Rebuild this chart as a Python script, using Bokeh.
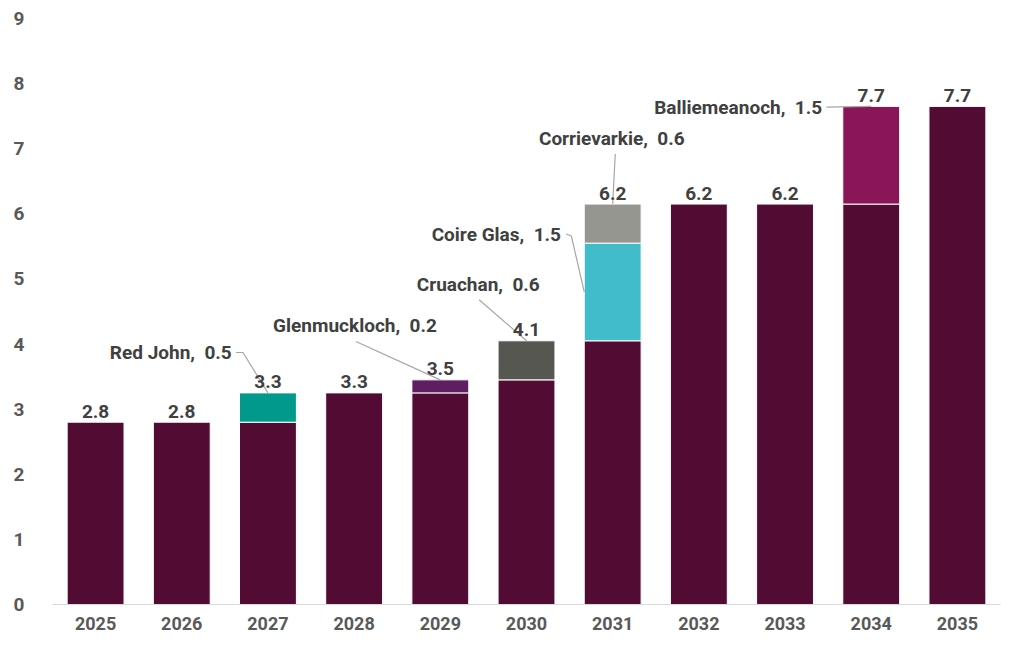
import math
from bokeh.plotting import figure
from bokeh.models import ColumnDataSource, Range1d, FixedTicker
from bokeh.core.properties import value
from bokeh.embed import file_html
from bokeh.resources import INLINE

# ---- data ----
years = ["2025", "2026", "2027", "2028", "2029", "2030", "2031", "2032", "2033", "2034", "2035"]
base = [2.8, 2.8, 2.8, 3.25, 3.25, 3.45, 4.05, 6.15, 6.15, 6.15, 7.65]
project_names = ["Red John", "Glenmuckloch", "Cruachan", "Coire Glas", "Corrievarkie", "Balliemeanoch"]
project_years = ["2027", "2029", "2030", "2031", "2031", "2034"]
project_values = [0.45, 0.2, 0.6, 1.5, 0.6, 1.5]
project_labels = ["0.5", "0.2", "0.6", "1.5", "0.6", "1.5"]
y_ticks = [0, 1, 2, 3, 4, 5, 6, 7, 8, 9]

# ---- styles ----
BASE_COLOR = "#520C33"
project_colors = ["#00998C", "#5E1F60", "#555750", "#41BCCB", "#95968F", "#8A1557"]
FONT = "Roboto"
TXT = "#404040"
AX = "#595959"
LEAD = "#A6A6A6"
BW = 0.66
FS = "19px"

p = figure(width=1004, height=632, output_backend="svg", toolbar_location=None,
           x_range=Range1d(-0.5, len(years) - 0.5), y_range=Range1d(0, 9),
           min_border_left=52, min_border_right=4, min_border_top=18, min_border_bottom=28)
p.outline_line_color = None
p.xgrid.grid_line_color = None
p.ygrid.grid_line_color = None

xs = list(range(len(years)))
src = ColumnDataSource(dict(x=xs, top=base))
p.vbar(x="x", width=BW, bottom=0, top="top", source=src, fill_color=BASE_COLOR,
       line_color="white", line_width=1)

# stacked project segments
bottoms, tops, pxs = [], [], []
running = {y: b for y, b in zip(years, base)}
for yr, v in zip(project_years, project_values):
    b = running[yr]
    bottoms.append(b)
    tops.append(b + v)
    pxs.append(years.index(yr))
    running[yr] = b + v
psrc = ColumnDataSource(dict(x=pxs, bottom=bottoms, top=tops, color=project_colors))
p.vbar(x="x", width=BW, bottom="bottom", top="top", source=psrc, fill_color="color",
       line_color="white", line_width=1)

# leader lines + annotation labels (label anchor positions in data space)
ann = {
    "Red John":      dict(tx=1.58, ty=3.87, align="right",
                          path=[(1.63, 3.87), (1.71, 3.87)], end="top_c"),
    "Glenmuckloch":  dict(tx=3.01, ty=4.29, align="center",
                          path=[(3.02, 4.04)], end="top_c"),
    "Cruachan":      dict(tx=4.44, ty=4.91, align="center",
                          path=[(4.45, 4.68)], end="top_c"),
    "Coire Glas":    dict(tx=5.40, ty=5.69, align="right",
                          path=[(5.46, 5.69), (5.52, 5.66)], end="mid_l"),
    "Corrievarkie":  dict(tx=5.99, ty=7.16, align="center",
                          path=[(6.03, 6.92)], end="top_c"),
    "Balliemeanoch": dict(tx=8.43, ty=7.64, align="right",
                          path=[(8.48, 7.64)], end="top_c"),
}
for name, lab, x0, b, t in zip(project_names, project_labels, pxs, bottoms, tops):
    a = ann[name]
    pts = list(a["path"])
    if a["end"] == "top_c":
        pts.append((x0, t))
    else:
        pts.append((x0 - BW / 2, (b + t) / 2))
    p.line([q[0] for q in pts], [q[1] for q in pts], line_color=LEAD, line_width=1.2)
    p.text(x=[a["tx"]], y=[a["ty"]], text=[f"{name},\u00a0 {lab}"], text_font=value(FONT),
           text_font_style="bold", text_font_size=FS, text_color=TXT,
           text_align=a["align"], text_baseline="middle")

# totals
totals = [running[y] for y in years]
def fmt(v):
    return f"{math.floor(v * 10 + 0.5 + 1e-9) / 10:.1f}"
tsrc = ColumnDataSource(dict(x=xs, y=totals, t=[fmt(v) for v in totals]))
p.text(x="x", y="y", text="t", source=tsrc, text_font=value(FONT), text_font_style="bold",
       text_font_size=FS, text_color=TXT, text_align="center", text_baseline="alphabetic",
       y_offset=-11)

# axes
p.xaxis.ticker = FixedTicker(ticks=xs)
p.xaxis.major_label_overrides = {i: y for i, y in enumerate(years)}
p.xaxis.axis_line_color = "#D9D9D9"
p.xaxis.major_tick_line_color = None
p.xaxis.minor_tick_line_color = None
p.xaxis.major_label_standoff = 6
p.xaxis.major_label_text_font = FONT
p.xaxis.major_label_text_font_style = "bold"
p.xaxis.major_label_text_font_size = "18px"
p.xaxis.major_label_text_color = AX

p.yaxis.ticker = FixedTicker(ticks=y_ticks)
p.yaxis.axis_line_color = None
p.yaxis.major_tick_line_color = None
p.yaxis.minor_tick_line_color = None
p.yaxis.major_label_standoff = 22
p.yaxis.major_label_text_font = FONT
p.yaxis.major_label_text_font_style = "bold"
p.yaxis.major_label_text_font_size = FS
p.yaxis.major_label_text_color = AX

open("out.html", "w").write(file_html(p, INLINE))
